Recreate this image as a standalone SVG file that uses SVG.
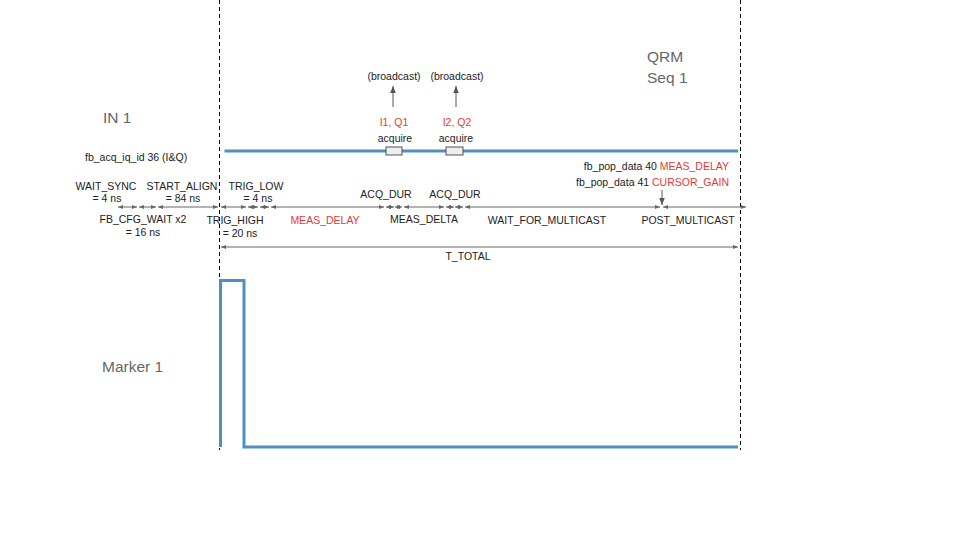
<svg xmlns="http://www.w3.org/2000/svg" width="960" height="540" viewBox="0 0 960 540">
<style>
.t{font-family:"Liberation Sans",Arial,sans-serif;font-size:10.5px;fill:#222}
.r{fill:#e53935}
.big{font-family:"Liberation Sans",Arial,sans-serif;font-size:15.5px;fill:#666}
.m{text-anchor:middle}
.dim{stroke:#666;stroke-width:1;fill:none;marker-start:url(#ah);marker-end:url(#ah)}
.one{stroke:#555;stroke-width:1;fill:none;marker-end:url(#ah2)}
.dash{stroke:#000;stroke-width:1;stroke-dasharray:4,3;fill:none}
.sig{stroke:#4f8fc2;stroke-width:3;fill:none}
</style>
<defs>
<marker id="ah" viewBox="0 0 10 10" refX="10" refY="5" markerWidth="5" markerHeight="5" orient="auto-start-reverse" markerUnits="userSpaceOnUse"><path d="M0,1 L10,5 L0,9 z" fill="#666"/></marker>
<marker id="ah2" viewBox="0 0 10 10" refX="10" refY="5" markerWidth="7" markerHeight="7" orient="auto" markerUnits="userSpaceOnUse"><path d="M0,1 L10,5 L0,9 z" fill="#555"/></marker>
</defs>
<rect width="960" height="540" fill="#fff"/>

<g id="frame">
<line class="dash" x1="219.5" y1="0" x2="219.5" y2="450"/>
<line class="dash" x1="740.5" y1="0" x2="740.5" y2="450"/>
</g>

<g id="in1-label"><text class="big" x="103" y="123">IN 1</text></g>
<g id="qrm-label"><text class="big" x="647" y="62">QRM</text><text class="big" x="647" y="83">Seq 1</text></g>
<g id="marker1-label"><text class="big" x="102" y="372">Marker 1</text></g>

<g id="in1-signal">
<line class="sig" x1="224.5" y1="151" x2="738" y2="151"/>
<rect x="386" y="147" width="16" height="8" fill="#eee" stroke="#555" stroke-width="1"/>
<rect x="446" y="147" width="17" height="8" fill="#eee" stroke="#555" stroke-width="1"/>
</g>

<g id="marker1-signal">
<path class="sig" d="M220.5,447 V280.5 H244 V447 H738"/>
</g>

<g id="acq1"><text class="t m" x="394" y="80">(broadcast)</text><text class="t m r" x="394" y="126">I1, Q1</text><text class="t m" x="395" y="142">acquire</text></g>
<g id="acq2"><text class="t m" x="457" y="80">(broadcast)</text><text class="t m r" x="457" y="126">I2, Q2</text><text class="t m" x="456" y="142">acquire</text></g>

<g id="fb-acq"><text class="t" x="85" y="161">fb_acq_iq_id 36 (I&amp;Q)</text></g>
<g id="fb-pop">
<text class="t" x="729" y="170" text-anchor="end">fb_pop_data 40 <tspan class="r">MEAS_DELAY</tspan></text>
<text class="t" x="729" y="186" text-anchor="end">fb_pop_data 41 <tspan class="r">CURSOR_GAIN</tspan></text>
</g>

<g id="labels">
<text class="t m" x="106" y="190">WAIT_SYNC</text><text class="t m" x="107" y="202">= 4 ns</text>
<text class="t m" x="182" y="190">START_ALIGN</text><text class="t m" x="183" y="202">= 84 ns</text>
<text class="t m" x="143" y="223">FB_CFG_WAIT x2</text><text class="t m" x="143" y="236">= 16 ns</text>
<text class="t m" x="256" y="190">TRIG_LOW</text><text class="t m" x="258" y="202">= 4 ns</text>
<text class="t m" x="235" y="224">TRIG_HIGH</text><text class="t m" x="240" y="237">= 20 ns</text>
<text class="t m r" x="325" y="224">MEAS_DELAY</text>
<text class="t m" x="386" y="198">ACQ_DUR</text>
<text class="t m" x="455" y="198">ACQ_DUR</text>
<text class="t m" x="424" y="223">MEAS_DELTA</text>
<text class="t m" x="547" y="224">WAIT_FOR_MULTICAST</text>
<text class="t m" x="688" y="224">POST_MULTICAST</text>
<text class="t m" x="468" y="260">T_TOTAL</text>
</g>

<g id="connectors">
<line class="one" x1="393" y1="107" x2="393" y2="86"/>
<line class="one" x1="456" y1="107" x2="456" y2="86"/>
<line class="one" x1="662" y1="190" x2="662" y2="205"/>
<line class="dim" x1="118" y1="207" x2="137" y2="207"/>
<line class="dim" x1="139" y1="207" x2="156" y2="207"/>
<line class="dim" x1="158" y1="207" x2="218" y2="207"/>
<line class="dim" x1="221" y1="207" x2="246" y2="207"/>
<line class="dim" x1="248" y1="207" x2="258" y2="207"/>
<line class="dim" x1="260" y1="207" x2="269" y2="207"/>
<line class="dim" x1="271" y1="207" x2="384" y2="207"/>
<line class="dim" x1="386" y1="207" x2="394" y2="207"/>
<line class="dim" x1="395" y1="207" x2="402" y2="207"/>
<line class="dim" x1="404" y1="207" x2="444" y2="207"/>
<line class="dim" x1="446" y1="207" x2="454" y2="207"/>
<line class="dim" x1="455" y1="207" x2="463" y2="207"/>
<line class="dim" x1="465" y1="207" x2="660" y2="207"/>
<line class="dim" x1="663" y1="207" x2="746" y2="207"/>
<line class="dim" x1="221" y1="247" x2="738" y2="247"/>
</g>
</svg>
